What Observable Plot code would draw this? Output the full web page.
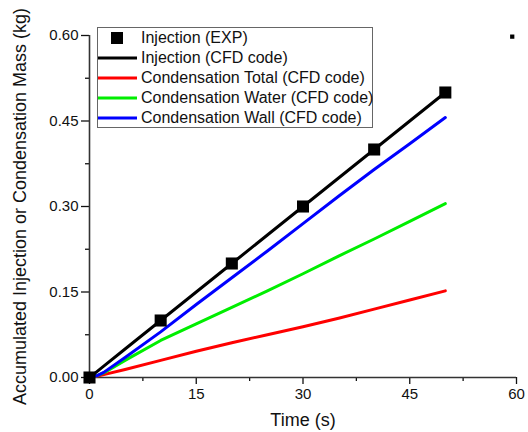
<!DOCTYPE html>
<html><head><meta charset="utf-8">
<script src="https://cdn.jsdelivr.net/npm/d3@7"></script>
<script src="https://cdn.jsdelivr.net/npm/@observablehq/plot@0.6"></script>
<style>
body{margin:0;background:#fff;}
#wrap{position:relative;width:528px;height:432px;font-family:"Liberation Sans",Arial,sans-serif;}
#legend{position:absolute;left:97px;top:27px;width:276px;height:101px;border:1px solid #666;background:#fff;box-sizing:border-box;}
.row{position:absolute;left:0;height:20px;display:flex;align-items:center;font-size:16px;color:#111;white-space:nowrap;}
.row svg{display:block;margin-right:4px;}
</style></head><body><div id="wrap"></div>
<script>
// Experimental injection
const expTime = [0, 10, 20, 30, 40, 50];
const expMass = [0, 0.1, 0.2, 0.3, 0.4, 0.5];
// CFD curves
const cfdTime = [0, 1, 2, 5, 10, 15, 20, 25, 30, 35, 40, 45, 50];
const injectionCFD = [0, 0.01, 0.02, 0.05, 0.1, 0.15, 0.2, 0.25, 0.3, 0.35, 0.4, 0.45, 0.5];
const condTotal    = [0, 0.002, 0.005, 0.014, 0.030, 0.046, 0.061, 0.075, 0.089, 0.104, 0.120, 0.136, 0.152];
const condWater    = [0, 0.003, 0.008, 0.030, 0.065, 0.094, 0.123, 0.152, 0.182, 0.213, 0.243, 0.274, 0.305];
const condWall     = [0, 0.003, 0.009, 0.035, 0.080, 0.128, 0.175, 0.222, 0.270, 0.318, 0.365, 0.410, 0.456];
// stray marker in top-right corner
const strayX = [59.4];
const strayY = [0.598];
// ticks
const xTicks = [0, 15, 30, 45, 60];
const xMinor = [7.5, 22.5, 37.5, 52.5];
const yTicks = [0, 0.15, 0.30, 0.45, 0.60];
const yMinor = [0.075, 0.225, 0.375, 0.525];

const seriesNames = ["Injection (CFD code)", "Condensation Total (CFD code)", "Condensation Water (CFD code)", "Condensation Wall (CFD code)"];
const seriesColors = ["#000000", "#ff0000", "#00ee00", "#0000ff"];
const seriesValues = [injectionCFD, condTotal, condWater, condWall];

const tbl = (vals) => cfdTime.map((t, i) => ({t, m: vals[i]}));
const expData = expTime.map((t, i) => ({t, m: expMass[i]}));
const strayData = strayX.map((t, i) => ({t, m: strayY[i]}));

const drawOrder = [1, 2, 3, 0];

const plot = Plot.plot({
  width: 528, height: 432,
  marginLeft: 89, marginRight: 12, marginTop: 35, marginBottom: 55,
  style: {fontFamily: '"Liberation Sans", Arial, sans-serif', fontSize: "15px", color: "#111", background: "#fff"},
  x: {domain: [0, 60], label: null},
  y: {domain: [0, 0.6], label: null},
  marks: [
    Plot.axisX({ticks: xTicks, tickSize: 7, tickPadding: 4, tickFormat: d3.format("d"), strokeWidth: 1.3, label: null}),
    Plot.axisX({ticks: xMinor, tickSize: 4, tickFormat: () => "", strokeWidth: 1.3, label: null}),
    Plot.axisY({ticks: yTicks, tickSize: 8, tickPadding: 3, tickFormat: d3.format(".2f"), strokeWidth: 1.3, label: null}),
    Plot.axisY({ticks: yMinor, tickSize: 4, tickFormat: () => "", strokeWidth: 1.3, label: null}),
    Plot.ruleX([0], {stroke: "#333", strokeWidth: 1.6}),
    Plot.ruleY([0], {stroke: "#333", strokeWidth: 1.6}),
    ...drawOrder.map(k => Plot.line(tbl(seriesValues[k]), {x: "t", y: "m", stroke: seriesColors[k], strokeWidth: 3})),
    Plot.dot(expData, {x: "t", y: "m", symbol: "square", r: 6.8, fill: "#000", stroke: "none"}),
    Plot.dot(strayData, {x: "t", y: "m", symbol: "square", r: 2.4, fill: "#000", stroke: "none"}),
    Plot.text(["Time (s)"], {frameAnchor: "bottom", dy: 43, fontSize: 18, textAnchor: "middle", lineAnchor: "middle", fill: "#111"}),
    Plot.text(["Accumulated Injection or Condensation Mass (kg)"], {frameAnchor: "left", dx: -69, rotate: -90, fontSize: 18, textAnchor: "middle", lineAnchor: "middle", fill: "#111"})
  ]
});
const wrap = document.getElementById("wrap");
wrap.appendChild(plot);

// Legend
const legend = document.createElement("div");
legend.id = "legend";
const entries = [{name: "Injection (EXP)", type: "square", color: "#000"}]
  .concat(seriesNames.map((n, i) => ({name: n, type: "line", color: seriesColors[i]})));
entries.forEach((e, i) => {
  const row = document.createElement("div");
  row.className = "row";
  row.style.top = (i * 20) + "px";
  const sw = e.type === "square"
    ? `<svg width="39" height="20"><rect x="13" y="4" width="12" height="12" fill="${e.color}"/></svg>`
    : `<svg width="39" height="20"><line x1="0" x2="39" y1="10" y2="10" stroke="${e.color}" stroke-width="3"/></svg>`;
  row.innerHTML = sw + `<span>${e.name}</span>`;
  legend.appendChild(row);
});
wrap.appendChild(legend);
</script>
</body></html>
